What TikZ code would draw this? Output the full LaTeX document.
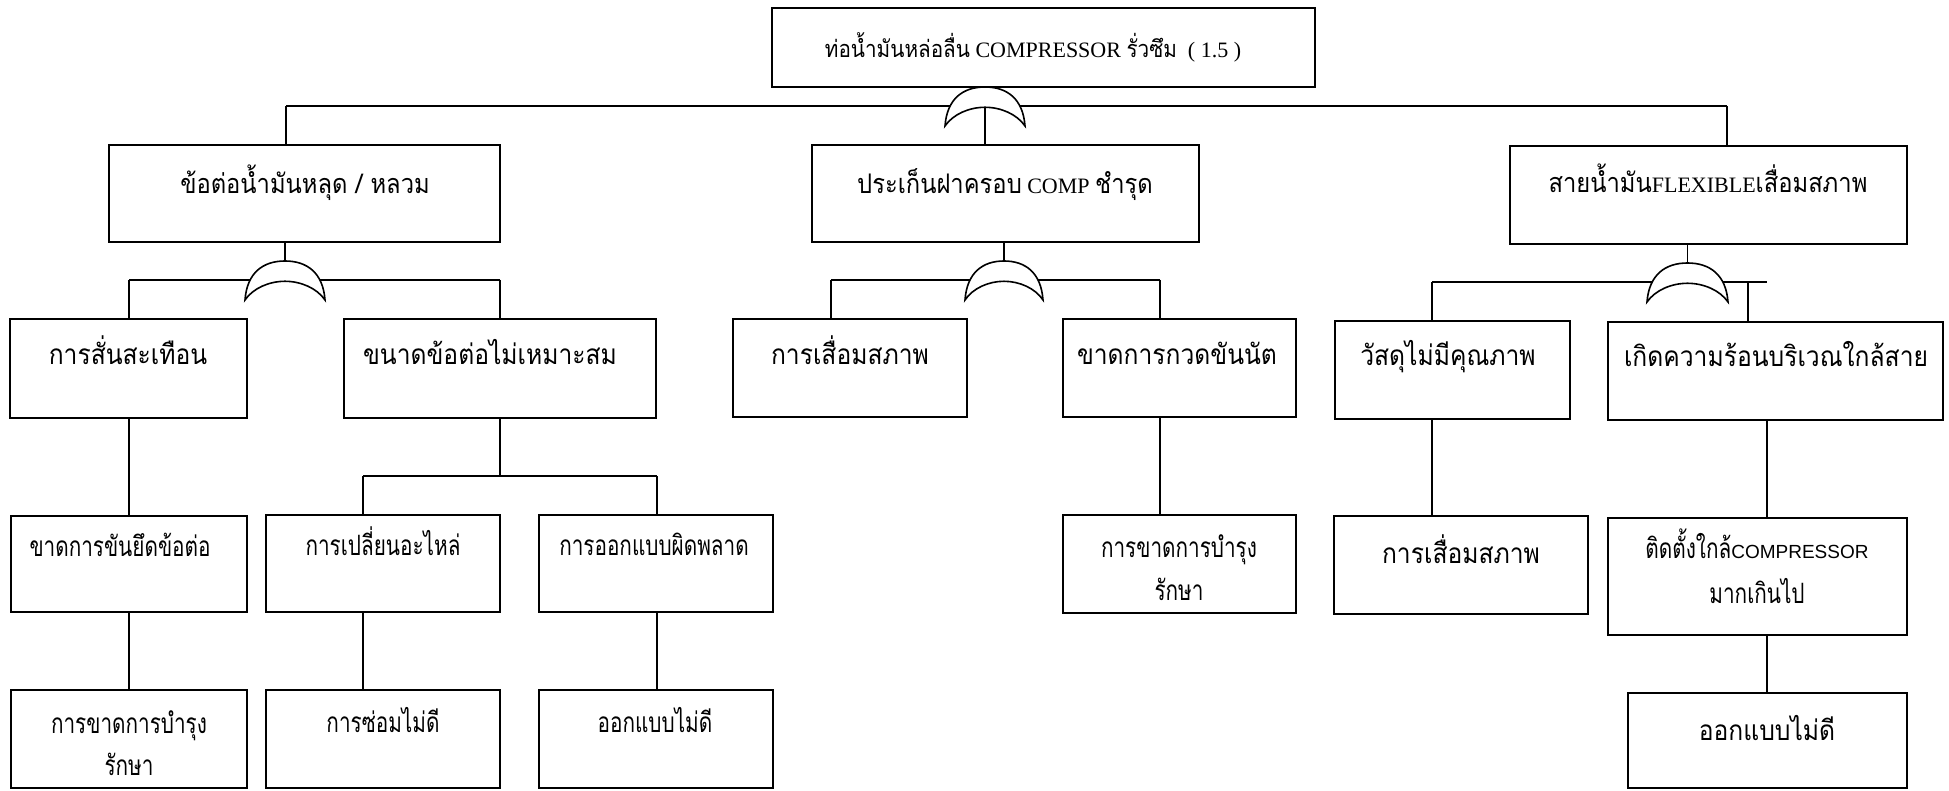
\documentclass[tikz,border=0pt]{standalone}
\usepackage{fontspec}
\setmainfont{Liberation Serif}
\newfontfamily\thai[Script=Thai,FakeStretch=0.88]{Loma}
\newfontfamily\thaicn[Script=Thai,FakeStretch=0.74]{Loma}
\newfontfamily\latsans{Liberation Sans}

% Thai runs inside the serif headings
\newcommand\thT[1]{{\thai\fontsize{23.5}{23.5}\selectfont #1}}
\newcommand\thA[1]{{\thai\fontsize{27}{27}\selectfont #1}}

% rectangle event box: name, x1, y1, x2, y2 (pixel grid, y downwards)
\newcommand\evbox[5]{%
  \node[evt, minimum width={#4-#2}, minimum height={#5-#3}] (#1)
    at ({(#2+#4)/2},{(#3+#5)/2}) {};}

% OR gate: name, centre x, top y, half width, height
\newcommand\orgate[5]{%
  \filldraw[gate] ({#2-#4},{#3+#5})
    .. controls ({#2-0.95*#4},{#3+0.3*#5}) and ({#2-0.55*#4},{#3}) .. ({#2},{#3})
    .. controls ({#2+0.55*#4},{#3}) and ({#2+0.95*#4},{#3+0.3*#5}) .. ({#2+#4},{#3+#5})
    .. controls ({#2+0.8*#4},{#3+0.7*#5}) and ({#2+0.4*#4},{#3+0.52*#5}) .. ({#2},{#3+0.52*#5})
    .. controls ({#2-0.4*#4},{#3+0.52*#5}) and ({#2-0.8*#4},{#3+0.7*#5}) .. cycle;
  \coordinate (#1-top) at (#2,#3);
  \coordinate (#1-in) at ({#2},{#3+0.52*#5});}

\begin{document}
\begin{tikzpicture}[x=1pt,y=-1pt,
  evt/.style={draw, rectangle, inner sep=0pt, line width=1.8pt},
  link/.style={line width=1.6pt},
  gate/.style={draw, fill=white, line width=1.6pt},
  txt/.style={anchor=base, inner sep=0pt},
  serif/.style={txt, font=\fontsize{22}{22}\selectfont},
  th/.style={txt, font=\thai\fontsize{28}{28}\selectfont},
  thcn/.style={txt, font=\thaicn\fontsize{28}{28}\selectfont}]
\useasboundingbox[fill=white] (0,0) rectangle (1949,791);

% ---- boxes ----
\evbox{top}{772}{8}{1315}{87}
\evbox{n1}{109}{145}{500}{242}
\evbox{n2}{812}{145}{1199}{242}
\evbox{n3}{1510}{146}{1907}{244}

\evbox{a1}{10}{319}{247}{418}
\evbox{a2}{344}{319}{656}{418}
\evbox{b1}{733}{319}{967}{417}
\evbox{b2}{1063}{319}{1296}{417}
\evbox{c1}{1335}{321}{1570}{419}
\evbox{c2}{1608}{322}{1943}{420}

\evbox{d1}{11}{516}{247}{612}
\evbox{d2}{266}{515}{500}{612}
\evbox{d3}{539}{515}{773}{612}
\evbox{f1}{1063}{515}{1296}{613}
\evbox{f2}{1334}{516}{1588}{614}
\evbox{f3}{1608}{518}{1907}{635}

\evbox{e1}{11}{690}{247}{788}
\evbox{e2}{266}{690}{500}{788}
\evbox{e3}{539}{690}{773}{788}
\evbox{f4}{1628}{693}{1907}{788}

% ---- texts ----
\node[serif] (topt) at (1033,58) {\thT{ท่อน้ำมันหล่อลื่น} COMPRESSOR \thT{รั่วซึม}\ \ ( 1.5 )};
\node[serif] (n1t) at (305,194) {\thA{ข้อต่อน้ำมันหลุด / หลวม}};
\node[serif] (n2t) at (1005,194) {\thA{ประเก็นฝาครอบ} COMP \thA{ชำรุด}};
\node[serif] (n3t) at (1708,193) {\thA{สายน้ำมัน}FLEXIBLE\thA{เสื่อมสภาพ}};

\node[th] (a1t) at (128,365) {การสั่นสะเทือน};
\node[th] (a2t) at (490,365) {ขนาดข้อต่อไม่เหมาะสม};
\node[th] (b1t) at (850,365) {การเสื่อมสภาพ};
\node[th] (b2t) at (1177,365) {ขาดการกวดขันนัต};
\node[th] (c1t) at (1448,366) {วัสดุไม่มีคุณภาพ};
\node[th] (c2t) at (1776,367) {เกิดความร้อนบริเวณใกล้สาย};

\node[thcn] (d1t) at (120,556) {ขาดการขันยึดข้อต่อ};
\node[thcn] (d2t) at (383,555) {การเปลี่ยนอะไหล่};
\node[thcn] (d3t) at (654,555) {การออกแบบผิดพลาด};
\node[thcn] (f1t) at (1179,557) {การขาดการบำรุง};
\node[thcn] (f1u) at (1179,600) {รักษา};
\node[th] (f2t) at (1461,563) {การเสื่อมสภาพ};
\node[thcn] (f3t) at (1757,558) {ติดตั้งใกล้{\latsans\fontsize{19}{19}\selectfont COMPRESSOR}};
\node[thcn] (f3u) at (1757,603) {มากเกินไป};

\node[thcn] (e1t) at (129,733) {การขาดการบำรุง};
\node[thcn] (e1u) at (129,775) {รักษา};
\node[thcn] (e2t) at (383,732) {การซ่อมไม่ดี};
\node[thcn] (e3t) at (655,732) {ออกแบบไม่ดี};
\node[th] (f4t) at (1767,740) {ออกแบบไม่ดี};

% ---- drop positions of the connectors ----
\coordinate (busL) at (286,106);
\coordinate (busR) at (1727,106);
\coordinate (h1l) at (129,280);
\coordinate (h1r) at (500,280);
\coordinate (h2l) at (831,280);
\coordinate (h2r) at (1160,280);
\coordinate (h3l) at (1432,282);
\coordinate (h3r) at (1767,282);
\coordinate (h3d) at (1748,282);
\coordinate (h4m) at (500,476);
\coordinate (h4l) at (363,476);
\coordinate (h4r) at (657,476);
\coordinate (xa) at (129,0);
\coordinate (xf1) at (1160,0);
\coordinate (xf2) at (1432,0);
\coordinate (xf3) at (1767,0);

% ---- connectors ----
\draw[link] (busL) -- (busR);
\draw[link] (busL) -- (busL |- n1.north);
\draw[link] (busR) -- (busR |- n3.north);

\draw[link] (h1l) -- (h1r);
\draw[link] (h1l) -- (h1l |- a1.north);
\draw[link] (h1r) -- (h1r |- a2.north);

\draw[link] (h2l) -- (h2r);
\draw[link] (h2l) -- (h2l |- b1.north);
\draw[link] (h2r) -- (h2r |- b2.north);

\draw[link] (h3l) -- (h3r);
\draw[link] (h3l) -- (h3l |- c1.north);
\draw[link] (h3d) -- (h3d |- c2.north);

\draw[link] (xa |- a1.south) -- (xa |- d1.north);
\draw[link] (xa |- d1.south) -- (xa |- e1.north);

\draw[link] (h4m |- a2.south) -- (h4m);
\draw[link] (h4l) -- (h4r);
\draw[link] (h4l) -- (h4l |- d2.north);
\draw[link] (h4r) -- (h4r |- d3.north);
\draw[link] (h4l |- d2.south) -- (h4l |- e2.north);
\draw[link] (h4r |- d3.south) -- (h4r |- e3.north);

\draw[link] (xf1 |- b2.south) -- (xf1 |- f1.north);
\draw[link] (xf2 |- c1.south) -- (xf2 |- f2.north);
\draw[link] (xf3 |- c2.south) -- (xf3 |- f3.north);
\draw[link] (xf3 |- f3.south) -- (xf3 |- f4.north);

% ---- OR gates ----
\orgate{g0}{985}{87}{40}{39}
\orgate{g1}{285}{261}{40}{39}
\orgate{g2}{1004}{261}{39}{39}
\orgate{g3}{1687.5}{263}{40.5}{39}

\draw[link] (g0-in) -- (g0-in |- n2.north);
\draw[link] (g1-top |- n1.south) -- (g1-top);
\draw[link] (g2-top |- n2.south) -- (g2-top);
\draw[link] (g3-top |- n3.south) -- (g3-top);
\end{tikzpicture}
\end{document}
